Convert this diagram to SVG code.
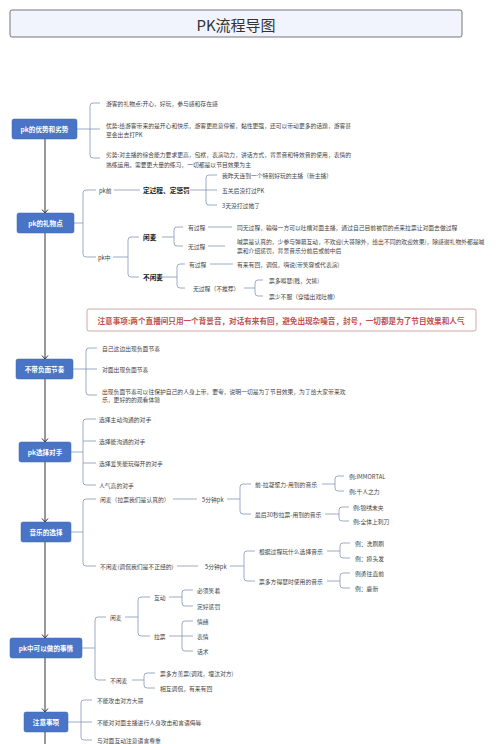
<svg xmlns="http://www.w3.org/2000/svg" width="500" height="744" viewBox="0 0 500 744">
<style>
text{font-family:"Noto Sans CJK SC","Noto Sans",sans-serif;dominant-baseline:central}
.n{fill:#4a74c5;stroke:#3f67b3;stroke-width:0.5}
.nt{fill:#fff;font-size:6.6px;font-weight:bold;text-anchor:middle}
.t{fill:#444;font-size:5.8px}
.b{fill:#222;font-size:6.7px;font-weight:bold}
.c{fill:none;stroke:#8497b8;stroke-width:0.8}
.s{fill:none;stroke:#333;stroke-width:1}
</style>
<defs>
<marker id="ar" markerUnits="userSpaceOnUse" markerWidth="10" markerHeight="10" refX="5" refY="5" orient="auto">
<path d="M1.5,2 L5,5 L1.5,8" fill="none" stroke="#333" stroke-width="1"/>
</marker>
</defs>
<rect width="500" height="744" fill="#fff"/>
<g id="title">
<rect x="10" y="10" width="452" height="27" rx="2" fill="#f2f4fd" stroke="#555" stroke-width="0.8"/>
<text x="236" y="24" style="font-size:15px;fill:#333;text-anchor:middle">PK流程导图</text>
</g>
<g id="spine">
<path class="s" d="M45,139 V213" marker-end="url(#ar)"/>
<path class="s" d="M45,233 V359" marker-end="url(#ar)"/>
<path class="s" d="M45,379 V442" marker-end="url(#ar)"/>
<path class="s" d="M45,462 V522" marker-end="url(#ar)"/>
<path class="s" d="M45,542 V638" marker-end="url(#ar)"/>
<path class="s" d="M45,658 V712" marker-end="url(#ar)"/>
<path class="s" d="M45,732 V744"/>
</g>
<g id="connectors">
<path class="c" d="M77,129 H100 M100,103 H93 Q90,103 90,106 V155 Q90,158 93,158 H100"/>
<path class="c" d="M74,223 H83 M96,190 H86 Q83,190 83,193 V254 Q83,257 86,257 H96"/>
<path class="c" d="M114,190 H140 M190,190 H217 M217,175 H209 Q206,175 206,178 V202 Q206,205 209,205 H217"/>
<path class="c" d="M113,257 H128 M139,237 H131 Q128,237 128,240 V274 Q128,277 131,277 H139"/>
<path class="c" d="M162,237 H174 M183,227 H177 Q174,227 174,230 V243 Q174,246 177,246 H183 M208,227 H232 M208,246 H225"/>
<path class="c" d="M163,277 H177 M185,264 H180 Q177,264 177,267 V285 Q177,288 180,288 H185 M210,264 H233"/>
<path class="c" d="M244,288 H255 M263,280 H258 Q255,280 255,283 V293 Q255,296 258,296 H263"/>
<path class="c" d="M73,369 H97 M97,348 H89 Q86,348 86,351 V392 Q86,395 89,395 H97"/>
<path class="c" d="M71,452 H83 M96,419 H86 Q83,419 83,422 V482 Q83,485 86,485 H96 M83,441 H96 M83,463 H96"/>
<path class="c" d="M71,532 H83 M96,499 H86 Q83,499 83,502 V563 Q83,566 86,566 H96"/>
<path class="c" d="M173,499 H197 M227,499 H240 M251,484 H243 Q240,484 240,487 V511 Q240,514 243,514 H251"/>
<path class="c" d="M322,484 H335 M344,476 H338 Q335,476 335,479 V488 Q335,491 338,491 H344"/>
<path class="c" d="M325,514 H339 M349,507 H342 Q339,507 339,510 V518 Q339,521 342,521 H349"/>
<path class="c" d="M177,566 H198 M230,566 H244 M255,551 H247 Q244,551 244,554 V578 Q244,581 247,581 H255"/>
<path class="c" d="M327,551 H340 M350,543 H343 Q340,543 340,546 V555 Q340,558 343,558 H350"/>
<path class="c" d="M327,581 H340 M350,573 H343 Q340,573 340,576 V585 Q340,588 343,588 H350"/>
<path class="c" d="M82,648 H95 M106,617 H98 Q95,617 95,620 V677 Q95,680 98,680 H106"/>
<path class="c" d="M125,617 H138 M150,597 H141 Q138,597 138,600 V633 Q138,636 141,636 H150"/>
<path class="c" d="M169,597 H182 M193,590 H185 Q182,590 182,593 V603 Q182,606 185,606 H193"/>
<path class="c" d="M169,636 H193 M193,621 H185 Q182,621 182,624 V648 Q182,651 185,651 H193"/>
<path class="c" d="M132,680 H144 M155,673 H147 Q144,673 144,676 V685 Q144,688 147,688 H155"/>
<path class="c" d="M68,722 H92 M92,700 H84 Q81,700 81,703 V737 Q81,740 84,740 H92"/>
</g>
<g id="n1">
<rect class="n" x="12" y="119" width="65" height="20" rx="2"/>
<text class="nt" x="44.5" y="129">pk的优势和劣势</text>
<text class="t" x="106" y="103">游客的礼物点:开心，好玩，参与感和存在感</text>
<text class="t" x="106" y="125">优势:给游客带来的是开心和快乐，游客更愿意停留，黏性更强，还可以带动更多的话题，游客甚</text>
<text class="t" x="106" y="134">至会出去打PK</text>
<text class="t" x="106" y="154">劣势:对主播的综合能力要求更高，包袱，表演功力，讲话方式，背景音和特效音的使用，表情的</text>
<text class="t" x="106" y="164">熟练运用。需要更大量的练习，一切都是以节目效果为主</text>
</g>
<g id="n2">
<rect class="n" x="17" y="213" width="57" height="20" rx="2"/>
<text class="nt" x="45.5" y="223">pk的礼物点</text>
<text class="t" x="99" y="190">pk前</text>
<text class="b" x="143" y="190">定过程、定惩罚</text>
<text class="t" x="222" y="175">我昨天连到一个特别好玩的主播（新主播）</text>
<text class="t" x="222" y="190">五关后没打过PK</text>
<text class="t" x="222" y="205">3天没打过她了</text>
<text class="t" x="98" y="257">pk中</text>
<text class="b" x="143" y="237">闲麦</text>
<text class="t" x="188" y="227">有过程</text>
<text class="t" x="237" y="227">同无过程，输得一方可以吐槽对面主播，通过自己目前被罚的点来拉票让对面去做过程</text>
<text class="t" x="188" y="246">无过程</text>
<text class="t" x="237" y="241">喊票是认真的，少参与弹幕互动，不欢迎(大哥除外，给出不同的欢迎效果)，除感谢礼物外都是喊</text>
<text class="t" x="237" y="250">票和介绍惩罚，背景音乐分前后或前中后</text>
<text class="b" x="143" y="277">不闲麦</text>
<text class="t" x="189" y="264">有过程</text>
<text class="t" x="237" y="264">有来有回，调侃，嗨说(带笑容或代表演)</text>
<text class="t" x="193" y="288">无过程（不推荐）</text>
<text class="t" x="269" y="280">票多嘚瑟(贱，欠揍)</text>
<text class="t" x="269" y="296">票少不服（穿插出戏吐槽）</text>
</g>
<g id="note">
<rect x="87" y="309" width="389" height="22" rx="2" fill="#fff" stroke="#c9908e" stroke-width="0.8"/>
<text x="281" y="320" style="font-size:7.6px;font-weight:bold;fill:#c0504d;text-anchor:middle">注意事项:两个直播间只用一个背景音，对话有来有回，避免出现杂噪音，封号，一切都是为了节目效果和人气</text>
</g>
<g id="n3">
<rect class="n" x="16" y="359" width="57" height="20" rx="2"/>
<text class="nt" x="44.5" y="369">不带负面节奏</text>
<text class="t" x="102" y="348">自己这边出现负面节奏</text>
<text class="t" x="102" y="369">对面出现负面节奏</text>
<text class="t" x="102" y="391">出现负面节奏可以往保护自己的人身上带，要夸，说明一切是为了节目效果，为了给大家带来欢</text>
<text class="t" x="102" y="399">乐，更好的的观看体验</text>
</g>
<g id="n4">
<rect class="n" x="19" y="442" width="52" height="20" rx="2"/>
<text class="nt" x="45" y="452">pk选择对手</text>
<text class="t" x="99" y="419">选择主动沟通的对手</text>
<text class="t" x="99" y="441">选择能沟通的对手</text>
<text class="t" x="99" y="463">选择爱笑能玩得开的对手</text>
<text class="t" x="99" y="485">人气高的对手</text>
</g>
<g id="n5">
<rect class="n" x="21" y="522" width="50" height="20" rx="2"/>
<text class="nt" x="46" y="532">音乐的选择</text>
<text class="t" x="100" y="499">闲麦（拉票我们是认真的）</text>
<text class="t" x="202" y="499">5分钟pk</text>
<text class="t" x="255" y="484">前-拉凝聚力-用到的音乐</text>
<text class="t" x="349" y="476">例:IMMORTAL</text>
<text class="t" x="349" y="491">例:千人之力</text>
<text class="t" x="255" y="514">最后30秒拉票-用到的音乐</text>
<text class="t" x="353" y="507">例:锦绣未央</text>
<text class="t" x="353" y="521">例:全体上刺刀</text>
<text class="t" x="100" y="566">不闲麦(调侃我们是不正经的)</text>
<text class="t" x="205" y="566">5分钟pk</text>
<text class="t" x="259" y="551">根据过程玩什么选择音乐</text>
<text class="t" x="355" y="543">例：洗刷刷</text>
<text class="t" x="355" y="558">例：摸头发</text>
<text class="t" x="259" y="581">票多方得瑟时使用的音乐</text>
<text class="t" x="355" y="573">例勇往直前</text>
<text class="t" x="355" y="588">例：鹿新</text>
</g>
<g id="n6">
<rect class="n" x="10" y="638" width="72" height="20" rx="2"/>
<text class="nt" x="46" y="648">pk中可以做的事情</text>
<text class="t" x="110" y="617">闲麦</text>
<text class="t" x="154" y="597">互动</text>
<text class="t" x="197" y="590">必须笑着</text>
<text class="t" x="197" y="606">定好惩罚</text>
<text class="t" x="154" y="636">拉票</text>
<text class="t" x="197" y="621">情绪</text>
<text class="t" x="197" y="636">表情</text>
<text class="t" x="197" y="651">话术</text>
<text class="t" x="110" y="680">不闲麦</text>
<text class="t" x="160" y="673">票多方羡票(调戏，埋汰对方)</text>
<text class="t" x="160" y="688">相互调侃，有来有回</text>
</g>
<g id="n7">
<rect class="n" x="24" y="712" width="44" height="20" rx="2"/>
<text class="nt" x="46" y="722">注意事项</text>
<text class="t" x="97" y="700">不能攻击对方大哥</text>
<text class="t" x="97" y="722">不能对对面主播进行人身攻击和言语侮辱</text>
<text class="t" x="97" y="740">与对面互动注意语言尊重</text>
</g>
</svg>
